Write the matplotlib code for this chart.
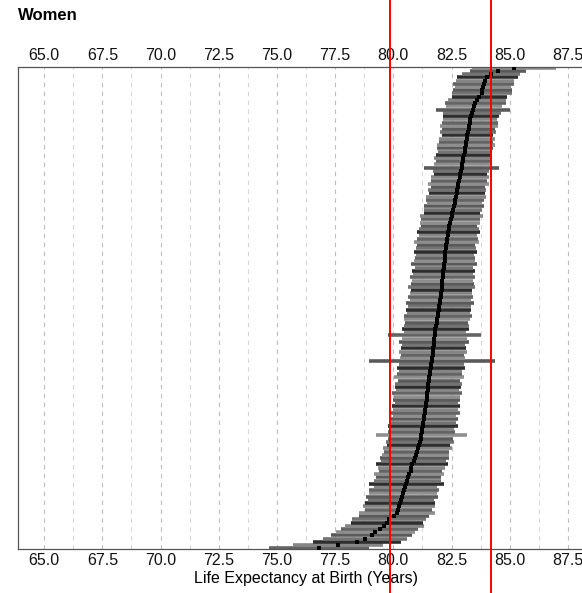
"""Women life expectancy at birth, ranked areas with 95% intervals."""

import matplotlib.pyplot as plt
from matplotlib import transforms

# point estimates, lowest (bottom row) to highest (top row)
life_exp = [
    76.80, 77.62, 78.45, 78.78, 79.07, 79.22, 79.42, 79.62, 79.74, 79.82,
    80.03, 80.16, 80.22, 80.26, 80.30, 80.33, 80.38, 80.42, 80.47, 80.51,
    80.56, 80.60, 80.65, 80.69, 80.74, 80.78, 80.82, 80.87, 80.91, 80.96,
    81.00, 81.04, 81.09, 81.14, 81.17, 81.20, 81.22, 81.24, 81.26, 81.29,
    81.31, 81.33, 81.36, 81.38, 81.40, 81.42, 81.43, 81.45, 81.46, 81.47,
    81.49, 81.51, 81.53, 81.55, 81.57, 81.59, 81.61, 81.63, 81.66, 81.67,
    81.69, 81.70, 81.72, 81.73, 81.75, 81.76, 81.78, 81.79, 81.81, 81.84,
    81.86, 81.88, 81.91, 81.93, 81.95, 81.98, 82.00, 82.02, 82.04, 82.05,
    82.07, 82.08, 82.10, 82.11, 82.12, 82.14, 82.15, 82.17, 82.18, 82.20,
    82.21, 82.23, 82.24, 82.26, 82.27, 82.29, 82.32, 82.34, 82.36, 82.39,
    82.41, 82.44, 82.46, 82.50, 82.53, 82.57, 82.60, 82.63, 82.66, 82.69,
    82.72, 82.74, 82.77, 82.80, 82.82, 82.85, 82.88, 82.90, 82.93, 82.96,
    82.99, 83.01, 83.04, 83.06, 83.09, 83.11, 83.13, 83.15, 83.18, 83.20,
    83.23, 83.25, 83.28, 83.30, 83.33, 83.37, 83.42, 83.47, 83.52, 83.58,
    83.70, 83.80, 83.83, 83.85, 83.88, 83.95, 84.04, 84.20, 84.50, 85.20,
]

# half width of each interval (years)
ci_half = [
    2.15, 1.95, 1.90, 1.80, 1.75, 1.70, 1.65, 1.70, 1.55, 1.60,
    1.50, 1.65, 1.45, 1.55, 1.50, 1.40, 1.55, 1.45, 1.50, 1.35,
    1.60, 1.45, 1.40, 1.50, 1.35, 1.45, 1.55, 1.40, 1.50, 1.45,
    1.40, 1.50, 1.35, 1.45, 1.40, 1.95, 1.45, 1.35, 1.50, 1.40,
    1.45, 1.35, 1.50, 1.40, 1.45, 1.35, 1.45, 1.40, 1.50, 1.35,
    1.40, 1.45, 1.35, 1.50, 1.40, 1.35, 1.45, 1.40, 2.70, 1.40,
    1.35, 1.45, 1.40, 1.35, 1.50, 1.40, 2.00, 1.35, 1.45, 1.40,
    1.35, 1.40, 1.45, 1.35, 1.40, 1.35, 1.45, 1.30, 1.40, 1.35,
    1.30, 1.45, 1.35, 1.30, 1.40, 1.30, 1.35, 1.25, 1.40, 1.30,
    1.30, 1.25, 1.35, 1.30, 1.25, 1.40, 1.30, 1.25, 1.35, 1.30,
    1.20, 1.30, 1.25, 1.35, 1.20, 1.25, 1.30, 1.20, 1.25, 1.30,
    1.20, 1.25, 1.15, 1.30, 1.20, 1.25, 1.15, 1.20, 1.60, 1.20,
    1.15, 1.25, 1.20, 1.15, 1.20, 1.25, 1.15, 1.20, 1.10, 1.20,
    1.15, 1.25, 1.20, 1.15, 1.20, 1.25, 1.60, 1.20, 1.30, 1.25,
    1.20, 1.30, 1.25, 1.20, 1.30, 1.25, 1.30, 1.25, 1.20, 1.80,
]

ref_lines = [79.87, 84.21]
major_ticks = [65.0, 67.5, 70.0, 72.5, 75.0, 77.5, 80.0, 82.5, 85.0, 87.5]
minor_ticks = [66.25, 68.75, 71.25, 73.75, 76.25, 78.75, 81.25, 83.75, 86.25]

plt.rcParams["font.family"] = ["Liberation Sans", "DejaVu Sans"]

fig = plt.figure(figsize=(5.82, 5.93), dpi=100)
ax = fig.add_axes([0.031, 0.0737, 0.99, 0.8138])

rows = list(range(len(life_exp)))
lo = [v - h for v, h in zip(life_exp, ci_half)]
hi = [v + h for v, h in zip(life_exp, ci_half)]
shades = ["#646464", "#858585", "#2e2e2e", "#737373", "#5a5a5a", "#8e8e8e"]
ax.hlines(rows, lo, hi, colors=[shades[i % 6] for i in rows], linewidth=2.6, zorder=2)
ax.plot(life_exp, rows, "s", color="black", markersize=2.3, markeredgewidth=0, zorder=3)

ax.set_xlim(63.88, 88.63)
ax.set_ylim(-0.3, len(life_exp) - 0.7)
ax.set_xticks(major_ticks)
ax.set_xticks(minor_ticks, minor=True)
ax.set_xticklabels([f"{t:.1f}" for t in major_ticks])
ax.set_yticks([])
ax.tick_params(axis="x", which="both", length=0, labelsize=11.5, labeltop=True, pad=3, colors="#111111")
ax.grid(axis="x", which="major", color="#bdbdbd", linestyle=(0, (4, 4)), linewidth=0.8, zorder=0)
ax.grid(axis="x", which="minor", color="#d6d6d6", linestyle=(0, (4, 4)), linewidth=0.8, zorder=0)
for side in ["top", "bottom", "left"]:
    ax.spines[side].set_color("#555555")
    ax.spines[side].set_linewidth(0.9)
ax.spines["right"].set_visible(False)

# red reference lines run over the full height of the figure
trans = transforms.blended_transform_factory(ax.transData, fig.transFigure)
for x in ref_lines:
    ax.plot([x, x], [0, 1], transform=trans, color="red", linewidth=1.4, clip_on=False, zorder=5)

fig.text(18 / 582, 1 - 16 / 593, "Women", fontsize=12, fontweight="bold", va="center", ha="left")
fig.text(306 / 582, 1 - 578 / 593, "Life Expectancy at Birth (Years)", fontsize=11.5, va="center", ha="center")

fig.savefig("out.png", dpi=100)
